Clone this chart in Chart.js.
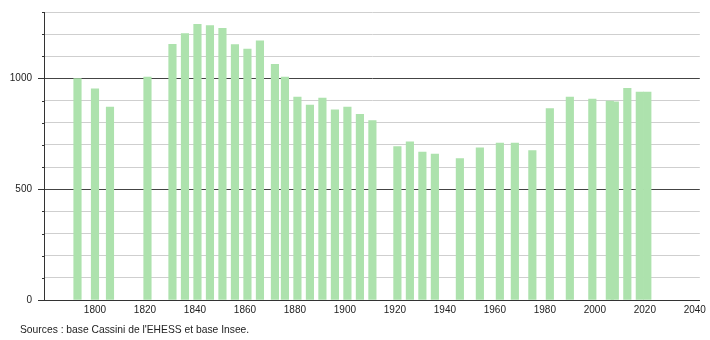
<!DOCTYPE html>
<html>
<head>
<meta charset="utf-8">
<script src="https://cdn.jsdelivr.net/npm/chart.js@4.4.1/dist/chart.umd.min.js"></script>
<style>
  body { margin: 0; background: #fff; }
  #wrap { position: relative; width: 710px; height: 340px; }
  #src {
    position: absolute; left: 20px; top: 325px;
    font: 10.3px "Liberation Sans", Arial, sans-serif; line-height: 1;
    color: #222; white-space: nowrap;
  }
</style>
</head>
<body>
<div id="wrap">
  <canvas id="chart" width="710" height="340"></canvas>
  <div id="src">Sources : base Cassini de l'EHESS et base Insee.</div>
</div>
<script>
// census years and population
const years = [1793, 1800, 1806, 1821, 1831, 1836, 1841, 1846, 1851, 1856, 1861, 1866,
  1872, 1876, 1881, 1886, 1891, 1896, 1901, 1906, 1911, 1921, 1926, 1931, 1936,
  1946, 1954, 1962, 1968, 1975, 1982, 1990, 1999, 2006, 2008, 2013, 2018, 2021];
const population = [1000, 953, 871, 1006, 1154, 1203, 1244, 1239, 1226, 1153, 1133, 1170,
  1064, 1006, 916, 880, 912, 858, 871, 838, 810, 692, 714, 668, 659,
  638, 687, 708, 708, 674, 864, 916, 907, 898, 895, 955, 938, 938];

const xTicks = [1800, 1820, 1840, 1860, 1880, 1900, 1920, 1940, 1960, 1980, 2000, 2020, 2040];
const yTicks = [0, 100, 200, 300, 400, 500, 600, 700, 800, 900, 1000, 1100, 1200, 1300];
const yLabels = [0, 500, 1000];

const font = { family: '"Liberation Sans", Arial, sans-serif', size: 10 };

// short tick marks for the minor y gridlines
const minorTicks = {
  id: 'minorTicks',
  afterDraw(chart) {
    const y = chart.scales.y;
    const ctx = chart.ctx;
    ctx.save();
    ctx.strokeStyle = '#333';
    ctx.lineWidth = 1;
    y.ticks.forEach(t => {
      if (t.value % 500 !== 0) {
        const p = Math.round(y.getPixelForValue(t.value)) + 0.5;
        ctx.beginPath();
        ctx.moveTo(y.right - 2, p);
        ctx.lineTo(y.right, p);
        ctx.stroke();
      }
    });
    ctx.restore();
  }
};

new Chart(document.getElementById('chart'), {
  type: 'bar',
  data: {
    datasets: [{
      data: years.map((x, i) => ({ x: x, y: population[i] })),
      backgroundColor: '#ade2ad',
      borderWidth: 0,
      barThickness: 7.5,
    }],
  },
  options: {
    responsive: false,
    animation: false,
    devicePixelRatio: 1,
    layout: { padding: { left: 0, top: 10, right: 10, bottom: 20 } },
    plugins: { legend: { display: false }, tooltip: { enabled: false } },
    scales: {
      x: {
        type: 'linear',
        offset: false,
        min: 1779.6,
        max: 2042,
        afterBuildTicks: s => { s.ticks = xTicks.map(v => ({ value: v })); },
        afterFit: s => { s.height = 20; },
        ticks: {
          callback: v => String(v),
          color: '#222', font: font, padding: 4,
          maxRotation: 0, autoSkip: false,
        },
        grid: { display: false, drawTicks: false },
        border: { color: '#333', width: 1 },
      },
      y: {
        min: 0,
        max: 1300,
        afterBuildTicks: s => { s.ticks = yTicks.map(v => ({ value: v })); },
        afterFit: s => { s.width = 44; },
        ticks: {
          callback: v => yLabels.includes(v) ? String(v) : '',
          color: '#222', font: font, padding: 6, autoSkip: false,
        },
        grid: {
          color: ctx => (ctx.tick && ctx.tick.value % 500 === 0) ? '#444' : '#cfcfcf',
          tickColor: ctx => (ctx.tick && ctx.tick.value % 500 === 0) ? '#333' : 'rgba(0,0,0,0)',
          tickLength: 6,
          lineWidth: 1,
        },
        border: { color: '#333', width: 1 },
      },
    },
  },
  plugins: [minorTicks],
});
</script>
</body>
</html>
